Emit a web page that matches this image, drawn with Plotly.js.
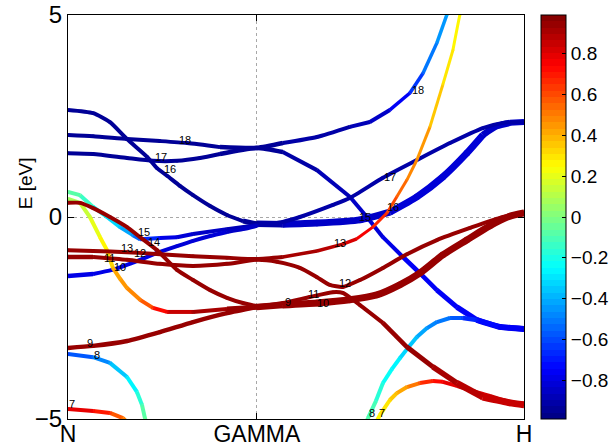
<!DOCTYPE html>
<html><head><meta charset="utf-8">
<script src="https://cdn.plot.ly/plotly-3.0.1.min.js"></script>
<style>html,body{margin:0;padding:0;background:#fff;} #plot{width:614px;height:446px;}</style>
</head><body><div id="plot"></div>
<script>
// ---------- data: k-path positions (N=0, GAMMA=0.7071, H=1.7071), energies (eV), spin projection, band weight ----------
const kTicks = [0, 0.7071, 1.7071];
const kLabels = ['N', 'GAMMA', 'H'];
const eTicks = [-5, 0, 5];
const cbTicks = [-0.8, -0.6, -0.4, -0.2, 0, 0.2, 0.4, 0.6, 0.8];

const k_b1 = [0, 0.094, 0.221, 0.344, 0.446, 0.569, 0.707, 0.804, 0.932, 1.055, 1.130, 1.205, 1.280, 1.329, 1.381, 1.418, 1.430];
const e_b1 = [2.03, 2.00, 1.93, 1.88, 1.83, 1.73, 1.71, 1.83, 1.98, 2.23, 2.35, 2.65, 3.07, 3.56, 4.31, 5.00, 5.25];
const s_b1 = [-0.95, -0.95, -0.95, -0.95, -0.95, -0.95, -0.95, -0.93, -0.92, -0.90, -0.88, -0.80, -0.70, -0.58, -0.47, -0.40, -0.38];
const w_b1 = [4, 4, 4, 4, 4, 4, 4.5, 4, 4, 4, 4, 3.5, 3.5, 3.5, 3.5, 3.5, 3.5];

const k_b2 = [0, 0.094, 0.221, 0.318, 0.408, 0.494, 0.569, 0.707, 0.804, 0.932, 1.055, 1.119, 1.179, 1.254, 1.317, 1.381, 1.456, 1.531, 1.617, 1.707];
const e_b2 = [1.58, 1.56, 1.46, 1.39, 1.39, 1.46, 1.56, 1.71, 1.61, 1.16, 0.50, 0.00, -0.50, -0.99, -1.39, -1.81, -2.23, -2.55, -2.72, -2.77];
const s_b2 = [-0.95, -0.95, -0.95, -0.95, -0.95, -0.95, -0.95, -0.95, -0.93, -0.90, -0.87, -0.84, -0.80, -0.77, -0.76, -0.76, -0.76, -0.77, -0.78, -0.78];
const w_b2 = [4, 4, 4, 4, 4, 4, 4, 4.5, 4, 4, 4, 4, 4, 4, 4.5, 4.5, 5, 5.5, 6, 6];

const k_b3 = [0, 0.094, 0.157, 0.221, 0.296, 0.333, 0.371, 0.419, 0.468, 0.532, 0.595, 0.655, 0.707, 0.804, 0.932, 1.093, 1.205, 1.306, 1.403, 1.493, 1.553, 1.605, 1.654, 1.707];
const e_b3 = [2.65, 2.57, 2.35, 1.93, 1.49, 1.21, 1.02, 0.77, 0.54, 0.27, 0.05, -0.10, -0.17, -0.18, -0.15, -0.07, 0.12, 0.50, 0.99, 1.58, 2.03, 2.25, 2.33, 2.35];
const s_b3 = [-0.95, -0.95, -0.95, -0.95, -0.95, -0.95, -0.95, -0.95, -0.95, -0.95, -0.95, -0.95, -0.95, -0.87, -0.86, -0.85, -0.84, -0.82, -0.82, -0.83, -0.84, -0.85, -0.86, -0.86];
const w_b3 = [4, 4, 4, 4, 4, 4, 4, 4, 4, 4, 4, 4, 6, 7, 7, 7, 7, 7, 7, 7, 6.5, 6.5, 6, 6];

const k_b4 = [0, 0.045, 0.094, 0.146, 0.195, 0.243, 0.270, 0.344, 0.408, 0.468, 0.595, 0.707, 0.804, 0.868, 0.992, 1.055, 1.179, 1.306, 1.430, 1.553, 1.628, 1.707];
const e_b4 = [0.62, 0.54, 0.25, 0.00, -0.25, -0.45, -0.55, -0.52, -0.50, -0.42, -0.30, -0.20, -0.12, 0.00, 0.30, 0.47, 0.97, 1.41, 1.83, 2.20, 2.33, 2.35];
const s_b4 = [-0.05, -0.08, -0.20, -0.30, -0.38, -0.48, -0.58, -0.75, -0.82, -0.85, -0.88, -0.90, -0.92, -0.92, -0.92, -0.92, -0.92, -0.92, -0.92, -0.92, -0.92, -0.92];
const w_b4 = [4, 4, 4, 4, 4, 4, 4, 4, 4, 4, 4, 4, 4, 4, 4, 4, 4, 4, 4, 4, 4, 4];

const k_b5 = [0, 0.094, 0.165, 0.270, 0.333, 0.408, 0.468, 0.532, 0.595, 0.655, 0.707];
const e_b5 = [-1.46, -1.41, -1.31, -1.06, -0.89, -0.72, -0.59, -0.47, -0.37, -0.30, -0.22];
const s_b5 = [-0.78, -0.78, -0.78, -0.79, -0.80, -0.81, -0.82, -0.83, -0.84, -0.85, -0.85];
const w_b5 = [4.5, 4, 4, 4, 4, 4, 4, 4, 4, 4, 4];

const k_b6 = [0, 0.045, 0.082, 0.120, 0.146, 0.168, 0.195, 0.221, 0.270, 0.318, 0.371, 0.468, 0.595, 0.707, 0.804, 0.932, 1.055, 1.156, 1.242, 1.317, 1.403, 1.493, 1.579, 1.654, 1.707];
const e_b6 = [0.45, 0.35, 0.00, -0.50, -0.82, -1.26, -1.53, -1.76, -2.05, -2.25, -2.35, -2.35, -2.28, -2.23, -2.18, -2.13, -2.05, -1.93, -1.68, -1.39, -0.94, -0.57, -0.22, 0.02, 0.10];
const s_b6 = [0.05, 0.10, 0.15, 0.25, 0.30, 0.38, 0.43, 0.45, 0.50, 0.65, 0.80, 0.90, 0.95, 0.95, 0.95, 0.95, 0.95, 0.95, 0.95, 0.95, 0.95, 0.95, 0.95, 0.95, 0.95];
const w_b6 = [4, 4, 4, 4, 4, 4, 4, 4, 4, 4, 4, 4, 4, 6, 6.5, 7, 7, 7, 7, 7, 7, 7, 7, 7, 7];

const k_b7 = [0, 0.045, 0.094, 0.157, 0.221, 0.270, 0.333, 0.408, 0.468, 0.532, 0.595, 0.655, 0.707, 0.804, 0.905, 0.992, 1.029, 1.093, 1.179, 1.269, 1.366, 1.456, 1.553, 1.654, 1.707];
const e_b7 = [0.35, 0.35, 0.22, 0.00, -0.25, -0.50, -0.82, -1.31, -1.56, -1.81, -2.00, -2.13, -2.20, -2.13, -1.98, -1.86, -1.88, -2.18, -2.62, -3.22, -3.71, -4.11, -4.46, -4.60, -4.65];
const s_b7 = [0.95, 0.95, 0.95, 0.95, 0.95, 0.95, 0.95, 0.95, 0.95, 0.95, 0.95, 0.95, 0.95, 0.95, 0.95, 0.95, 0.95, 0.95, 0.95, 0.95, 0.92, 0.88, 0.86, 0.85, 0.85];
const w_b7 = [4, 4, 4, 4, 4, 4, 4, 4, 4, 4, 4, 4, 4, 4, 4, 4, 4, 4, 4, 4.5, 5, 6, 6.5, 7, 7];

const k_b8 = [0, 0.094, 0.221, 0.344, 0.468, 0.595, 0.707, 0.804, 0.932, 1.029, 1.081, 1.141, 1.194, 1.231, 1.269, 1.306, 1.355, 1.403, 1.441, 1.467, 1.479];
const e_b8 = [-0.82, -0.84, -0.87, -0.92, -0.97, -1.01, -1.04, -0.99, -0.84, -0.67, -0.54, -0.25, 0.10, 0.50, 0.92, 1.41, 2.23, 3.27, 4.13, 5.00, 5.30];
const s_b8 = [0.95, 0.95, 0.95, 0.95, 0.95, 0.95, 0.95, 0.95, 0.90, 0.85, 0.80, 0.70, 0.62, 0.57, 0.52, 0.47, 0.40, 0.33, 0.28, 0.25, 0.25];
const w_b8 = [4, 4, 4, 4, 4, 4, 4, 3.5, 3.5, 3.5, 3, 3, 3, 3, 3, 3, 3, 3, 3, 3, 3];

const k_b9 = [0, 0.094, 0.221, 0.344, 0.468, 0.595, 0.707, 0.782, 0.868, 0.932, 0.980, 1.029, 1.093, 1.179, 1.269, 1.381, 1.505, 1.617, 1.707];
const e_b9 = [-0.99, -0.99, -1.06, -1.16, -1.21, -1.16, -1.06, -1.11, -1.26, -1.49, -1.68, -1.73, -1.56, -1.26, -0.92, -0.57, -0.27, -0.02, 0.10];
const s_b9 = [0.95, 0.95, 0.95, 0.95, 0.95, 0.95, 0.95, 0.95, 0.95, 0.95, 0.95, 0.95, 0.95, 0.95, 0.95, 0.95, 0.95, 0.95, 0.95];
const w_b9 = [4.5, 4, 4, 4, 4, 4, 4, 4, 4, 4, 4, 4, 4, 4, 4, 4, 4, 4, 4];

const k_b10 = [0, 0.094, 0.221, 0.344, 0.468, 0.595, 0.707];
const e_b10 = [-3.24, -3.19, -3.07, -2.85, -2.60, -2.38, -2.23];
const s_b10 = [0.95, 0.95, 0.95, 0.95, 0.95, 0.95, 0.95];
const w_b10 = [4.5, 4.5, 4.5, 4.5, 4.5, 4.5, 4.5];

const k_b11 = [0, 0.094, 0.157, 0.221, 0.258, 0.277, 0.288, 0.296];
const e_b11 = [-3.39, -3.47, -3.61, -3.96, -4.33, -4.65, -4.98, -5.15];
const s_b11 = [-0.62, -0.52, -0.42, -0.30, -0.20, -0.12, -0.06, -0.04];
const w_b11 = [4, 4, 4, 4, 4, 4, 4, 4];

const k_b12 = [0, 0.094, 0.157, 0.206, 0.225];
const e_b12 = [-4.75, -4.80, -4.85, -4.98, -5.10];
const s_b12 = [0.80, 0.75, 0.65, 0.50, 0.48];
const w_b12 = [4, 4, 4, 4, 4];

const k_b13 = [1.156, 1.168, 1.205, 1.231, 1.269, 1.317, 1.366, 1.403, 1.456, 1.493, 1.579, 1.654, 1.707];
const e_b13 = [-5.05, -4.90, -4.53, -4.36, -4.21, -4.11, -4.06, -4.08, -4.18, -4.26, -4.43, -4.58, -4.63];
const s_b13 = [0.25, 0.25, 0.32, 0.38, 0.45, 0.60, 0.70, 0.76, 0.80, 0.82, 0.84, 0.85, 0.85];
const w_b13 = [4, 4, 4, 4, 4, 4, 4, 4, 4, 4, 4, 4, 4];

const k_b14 = [1.115, 1.123, 1.153, 1.179, 1.213, 1.243, 1.269, 1.306, 1.344, 1.381, 1.430, 1.478, 1.531, 1.617, 1.707];
const e_b14 = [-5.10, -4.98, -4.55, -4.11, -3.76, -3.49, -3.27, -2.97, -2.75, -2.60, -2.50, -2.50, -2.55, -2.72, -2.77];
const s_b14 = [-0.05, -0.08, -0.15, -0.20, -0.25, -0.30, -0.33, -0.40, -0.45, -0.50, -0.55, -0.62, -0.70, -0.75, -0.78];
const w_b14 = [4, 4, 4, 4, 4, 4, 4, 4, 4, 4, 4, 4, 4.5, 5, 5.5];

// band index labels
const lblText = ['18', '17', '16', '15', '14', '13', '12', '11', '10', '9', '8', '7', '9', '11', '10', '12', '13', '15', '16', '17', '18', '8', '7'];
const lblK = [0.438, 0.348, 0.382, 0.285, 0.322, 0.221, 0.268, 0.157, 0.195, 0.082, 0.109, 0.015, 0.824, 0.920, 0.956, 1.037, 1.018, 1.112, 1.217, 1.206, 1.310, 1.138, 1.176];
const lblE = [1.91, 1.49, 1.19, -0.38, -0.62, -0.77, -0.88, -1.01, -1.24, -3.12, -3.42, -4.63, -2.10, -1.90, -2.12, -1.63, -0.64, 0.00, 0.25, 0.99, 3.14, -4.85, -4.85];

// ---------- drawing ----------
const CMIN = -0.99, CMAX = 0.99, NC = 64;
function jetRGB(p) {
  const f = v => Math.max(0, Math.min(1, v));
  return [f(1.5 - Math.abs(4 * p - 3)), f(1.5 - Math.abs(4 * p - 2)), f(1.5 - Math.abs(4 * p - 1))];
}
const palette = [];
for (let i = 0; i < NC; i++) {
  const c = jetRGB((i + 0.5) / NC);
  palette.push('rgb(' + c.map(v => Math.round(v * 255)).join(',') + ')');
}
const colorscale = [];
for (let i = 0; i < NC; i++) { colorscale.push([i / NC, palette[i]]); colorscale.push([(i + 1) / NC, palette[i]]); }
function cidx(s) {
  const p = (s - CMIN) / (CMAX - CMIN);
  return Math.max(0, Math.min(NC - 1, Math.floor(p * NC)));
}

const bands = [
  {k: k_b1, e: e_b1, s: s_b1, w: w_b1}, {k: k_b2, e: e_b2, s: s_b2, w: w_b2},
  {k: k_b3, e: e_b3, s: s_b3, w: w_b3}, {k: k_b4, e: e_b4, s: s_b4, w: w_b4},
  {k: k_b5, e: e_b5, s: s_b5, w: w_b5}, {k: k_b14, e: e_b14, s: s_b14, w: w_b14},
  {k: k_b11, e: e_b11, s: s_b11, w: w_b11}, {k: k_b13, e: e_b13, s: s_b13, w: w_b13},
  {k: k_b12, e: e_b12, s: s_b12, w: w_b12}, {k: k_b6, e: e_b6, s: s_b6, w: w_b6},
  {k: k_b7, e: e_b7, s: s_b7, w: w_b7}, {k: k_b8, e: e_b8, s: s_b8, w: w_b8},
  {k: k_b9, e: e_b9, s: s_b9, w: w_b9}, {k: k_b10, e: e_b10, s: s_b10, w: w_b10}
];

const traces = [];
bands.forEach(b => {
  const n = b.k.length;
  const segKey = i => cidx((b.s[i] + b.s[i + 1]) / 2) + '_' + Math.round(b.w[i] + b.w[i + 1]);
  let i = 0;
  while (i < n - 1) {
    let j = i;
    const key = segKey(i);
    while (j + 1 < n - 1 && segKey(j + 1) === key) j++;
    const parts = key.split('_').map(Number);
    traces.push({
      type: 'scatter', mode: 'lines', x: b.k.slice(i, j + 2), y: b.e.slice(i, j + 2),
      line: {color: palette[parts[0]], width: parts[1] / 2, shape: 'spline', smoothing: 0.6},
      hoverinfo: 'skip', showlegend: false
    });
    i = j + 1;
  }
  traces.push({
    type: 'scatter', mode: 'markers', x: b.k, y: b.e,
    marker: {size: b.w.map(v => v * 0.95), color: b.s.map(v => palette[cidx(v)]), line: {width: 0}},
    hoverinfo: 'skip', showlegend: false
  });
});

// colorbar carrier (point outside the visible range)
traces.push({
  type: 'scatter', mode: 'markers', x: [-1], y: [-20], hoverinfo: 'skip', showlegend: false,
  marker: {
    size: 1, color: [0], colorscale: colorscale, cmin: CMIN, cmax: CMAX, showscale: true,
    colorbar: {
      x: 1.0373, xanchor: 'left', xpad: 0, ypad: 0, y: 0.5, yanchor: 'middle', len: 1, lenmode: 'fraction',
      thickness: 25, thicknessmode: 'pixels', outlinewidth: 1, outlinecolor: '#000', borderwidth: 0,
      tickmode: 'array', tickvals: cbTicks, ticktext: cbTicks.map(v => (v < 0 ? '\u2212' + Math.abs(v) : String(v))),
      ticks: 'inside', ticklen: 4, tickcolor: '#000', tickwidth: 1,
      tickfont: {size: 19, family: 'Liberation Sans, Arial, sans-serif', color: '#000'}
    }
  }
});

const annotations = lblText.map((t, i) => ({
  x: lblK[i], y: lblE[i], xref: 'x', yref: 'y', text: t, showarrow: false,
  font: {size: 11, family: 'Liberation Sans, Arial, sans-serif', color: '#000'}, xanchor: 'center', yanchor: 'middle'
}));
annotations.push({
  xref: 'paper', yref: 'paper', x: -0.094, y: 0.584, text: 'E [eV]', textangle: -90, showarrow: false,
  font: {size: 19, family: 'Liberation Sans, Arial, sans-serif', color: '#000'}, xanchor: 'center', yanchor: 'middle'
});

const axisCommon = {
  showgrid: true, gridcolor: '#a8a8a8', griddash: 'dot', gridwidth: 1, zeroline: false,
  showline: true, linecolor: '#000', linewidth: 1, mirror: 'allticks', ticks: 'inside', ticklen: 6,
  tickcolor: '#000', tickwidth: 1, tickfont: {size: 24, family: 'Liberation Sans, Arial, sans-serif', color: '#000'},
  fixedrange: true, automargin: false
};

const layout = {
  width: 614, height: 446,
  margin: {l: 68, r: 90, t: 15, b: 27, pad: 0, autoexpand: false},
  paper_bgcolor: '#fff', plot_bgcolor: '#fff',
  font: {family: 'Liberation Sans, Arial, sans-serif', color: '#000'},
  showlegend: false,
  annotations: annotations,
  xaxis: Object.assign({}, axisCommon, {range: [0, 1.7071], tickmode: 'array', tickvals: kTicks, ticktext: kLabels, ticklabelstandoff: -6,
    tickfont: {size: 23, family: 'Liberation Sans, Arial, sans-serif', color: '#000'}}),
  yaxis: Object.assign({}, axisCommon, {range: [-5, 5], tickmode: 'array', tickvals: eTicks, ticktext: eTicks.map(v => (v < 0 ? '\u2212' + Math.abs(v) : String(v)))})
};

Plotly.newPlot('plot', traces, layout, {staticPlot: true, displayModeBar: false});
</script></body></html>
